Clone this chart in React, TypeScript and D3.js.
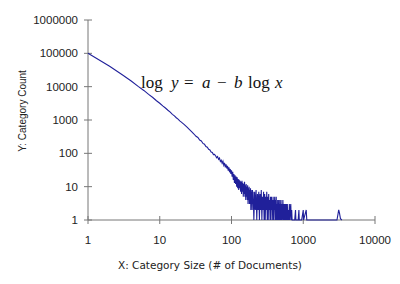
import React from "react";
import * as d3 from "d3";

const yTicks = [1, 10, 100, 1000, 10000, 100000, 1000000];
const xTicks = [1, 10, 100, 1000, 10000];

// Category size (# of documents) and number of categories with that size
const sizes = [
  1, 2, 3, 4, 5, 6, 7, 8, 9, 10, 11, 12, 13, 14, 15, 16, 17, 18, 19, 20,
  22, 24, 26, 28, 30, 32, 34, 36, 38, 40, 42, 44, 46, 48, 50, 52, 54, 56, 58,
  60, 62, 64, 66, 68, 70, 72, 74, 76, 78, 80, 82, 84, 86, 88, 90, 92, 94, 96, 98, 100,
  102, 104, 106, 108, 110, 112, 114, 116, 118, 120, 122, 124, 126, 128, 130, 132, 134, 136, 138, 140,
  142, 144, 146, 148, 150, 152, 154, 156, 158, 160, 162, 164, 166, 168, 170, 172, 174, 176, 178, 180,
  182, 184, 186, 188, 190, 192, 194, 196, 198, 200,
  205, 210, 215, 220, 225, 230, 235, 240, 245, 250, 255, 260, 265, 270, 275, 280, 285, 290, 295, 300,
  305, 310, 315, 320, 325, 330, 335, 340, 345, 350, 355, 360, 365, 370, 375, 380, 385, 390, 395, 400,
  405, 410, 415, 420, 425, 430, 435, 440, 445, 450, 455, 460, 465, 470, 475, 480, 485, 490, 495, 500,
  510, 520, 530, 540, 550, 560, 570, 580, 590, 600, 610, 620, 630, 640, 650, 660, 670, 680, 690, 700,
  720, 740, 760, 780, 790, 820, 850, 870, 880, 950, 1000, 1010, 1100, 1120, 1300,
  2800, 2950, 3050, 3120, 3200, 3300, 3450,
];
const counts = [
  100000, 41000, 22800, 14800, 10200, 7700, 5850, 4720, 3780, 3180, 2650, 2290, 1960, 1720, 1480, 1330, 1170, 1060, 940, 860,
  730, 610, 515, 440, 380, 325, 300, 250, 235, 198, 188, 160, 152, 132, 126, 110, 106, 92, 93,
  85, 74, 80, 66, 72, 57, 62, 50, 58, 44, 52, 38, 47, 35, 42, 30, 38, 27, 34, 24, 31,
  20, 28, 16, 24, 13, 22, 12, 20, 10, 19, 9, 17, 8, 16, 9, 15, 7, 14, 6, 15,
  7, 13, 5, 12, 6, 14, 5, 11, 4, 12, 5, 10, 4, 11, 3, 9, 4, 10, 3, 8,
  3, 9, 2, 8, 3, 7, 2, 8, 3, 7,
  1, 7, 2, 8, 1, 6, 2, 7, 1, 6, 2, 8, 1, 5, 2, 7, 1, 6, 1, 5,
  2, 7, 1, 5, 1, 6, 2, 4, 1, 5, 1, 5, 2, 4, 1, 5, 1, 4, 2, 5,
  1, 4, 1, 5, 1, 3, 1, 4, 1, 4, 1, 3, 1, 4, 1, 3, 1, 4, 1, 3,
  1, 4, 1, 3, 1, 3, 1, 3, 1, 3, 1, 2, 1, 3, 1, 2, 3, 1, 2, 1,
  1, 1, 1, 2, 1, 1, 1, 2, 1, 1, 2, 1, 2, 1, 1,
  1, 1, 1.5, 2, 1.6, 1.1, 1,
];

export default function App() {
  const x = d3.scaleLog().domain([1, 10000]).range([88, 375]);
  const y = d3.scaleLog().domain([1, 1000000]).range([220, 20]);
  const pts: [number, number][] = sizes.map((s, i) => [x(s), y(counts[i])]);
  const line = d3.line<[number, number]>()(pts) || "";
  const axisColor = "#777";
  const tickFont = "Liberation Sans, Arial, sans-serif";
  return (
    <svg width={400} height={284} style={{ position: "absolute", left: 0, top: 0, background: "#fff" }}>
      <rect width={400} height={284} fill="#fff" />
      {/* axes */}
      <line x1={x(1)} x2={x(1)} y1={y(1000000)} y2={y(1)} stroke={axisColor} strokeWidth={1} />
      <line x1={x(1)} x2={x(10000)} y1={y(1)} y2={y(1)} stroke={axisColor} strokeWidth={1} />
      {yTicks.map((t) => (
        <g key={"y" + t}>
          <line x1={x(1) - 4} x2={x(1) + 4} y1={y(t)} y2={y(t)} stroke={axisColor} />
          <text x={78} y={y(t) + 4} textAnchor="end" fontFamily={tickFont} fontSize={11.5} fill="#222">
            {t}
          </text>
        </g>
      ))}
      {xTicks.map((t) => (
        <g key={"x" + t}>
          <line x1={x(t)} x2={x(t)} y1={y(1) - 4} y2={y(1) + 4} stroke={axisColor} />
          <text x={x(t)} y={244} textAnchor="middle" fontFamily={tickFont} fontSize={11.5} fill="#222">
            {t}
          </text>
        </g>
      ))}
      {/* data line */}
      <path d={line} fill="none" stroke="#20209a" strokeWidth={1.1} />
      {/* axis titles */}
      <text x={210} y={269} textAnchor="middle" fontFamily="DejaVu Sans, Verdana, sans-serif" fontSize={10.5} fill="#222">
        X: Category Size (# of Documents)
      </text>
      <text
        transform="translate(26,111) rotate(-90)"
        textAnchor="middle"
        fontFamily={tickFont}
        fontSize={10}
        fill="#222"
      >
        Y: Category Count
      </text>
      {/* equation */}
      <g fontFamily="Liberation Serif, Times New Roman, serif" fontSize={17} fill="#111">
        <text x={141} y={88}>log</text>
        <text x={171} y={88} fontStyle="italic">y</text>
        <text x={184} y={88}>=</text>
        <text x={202} y={88} fontStyle="italic">a</text>
        <text x={217} y={88}>−</text>
        <text x={234} y={88} fontStyle="italic">b</text>
        <text x={248} y={88}>log</text>
        <text x={275} y={88} fontStyle="italic">x</text>
      </g>
    </svg>
  );
}
